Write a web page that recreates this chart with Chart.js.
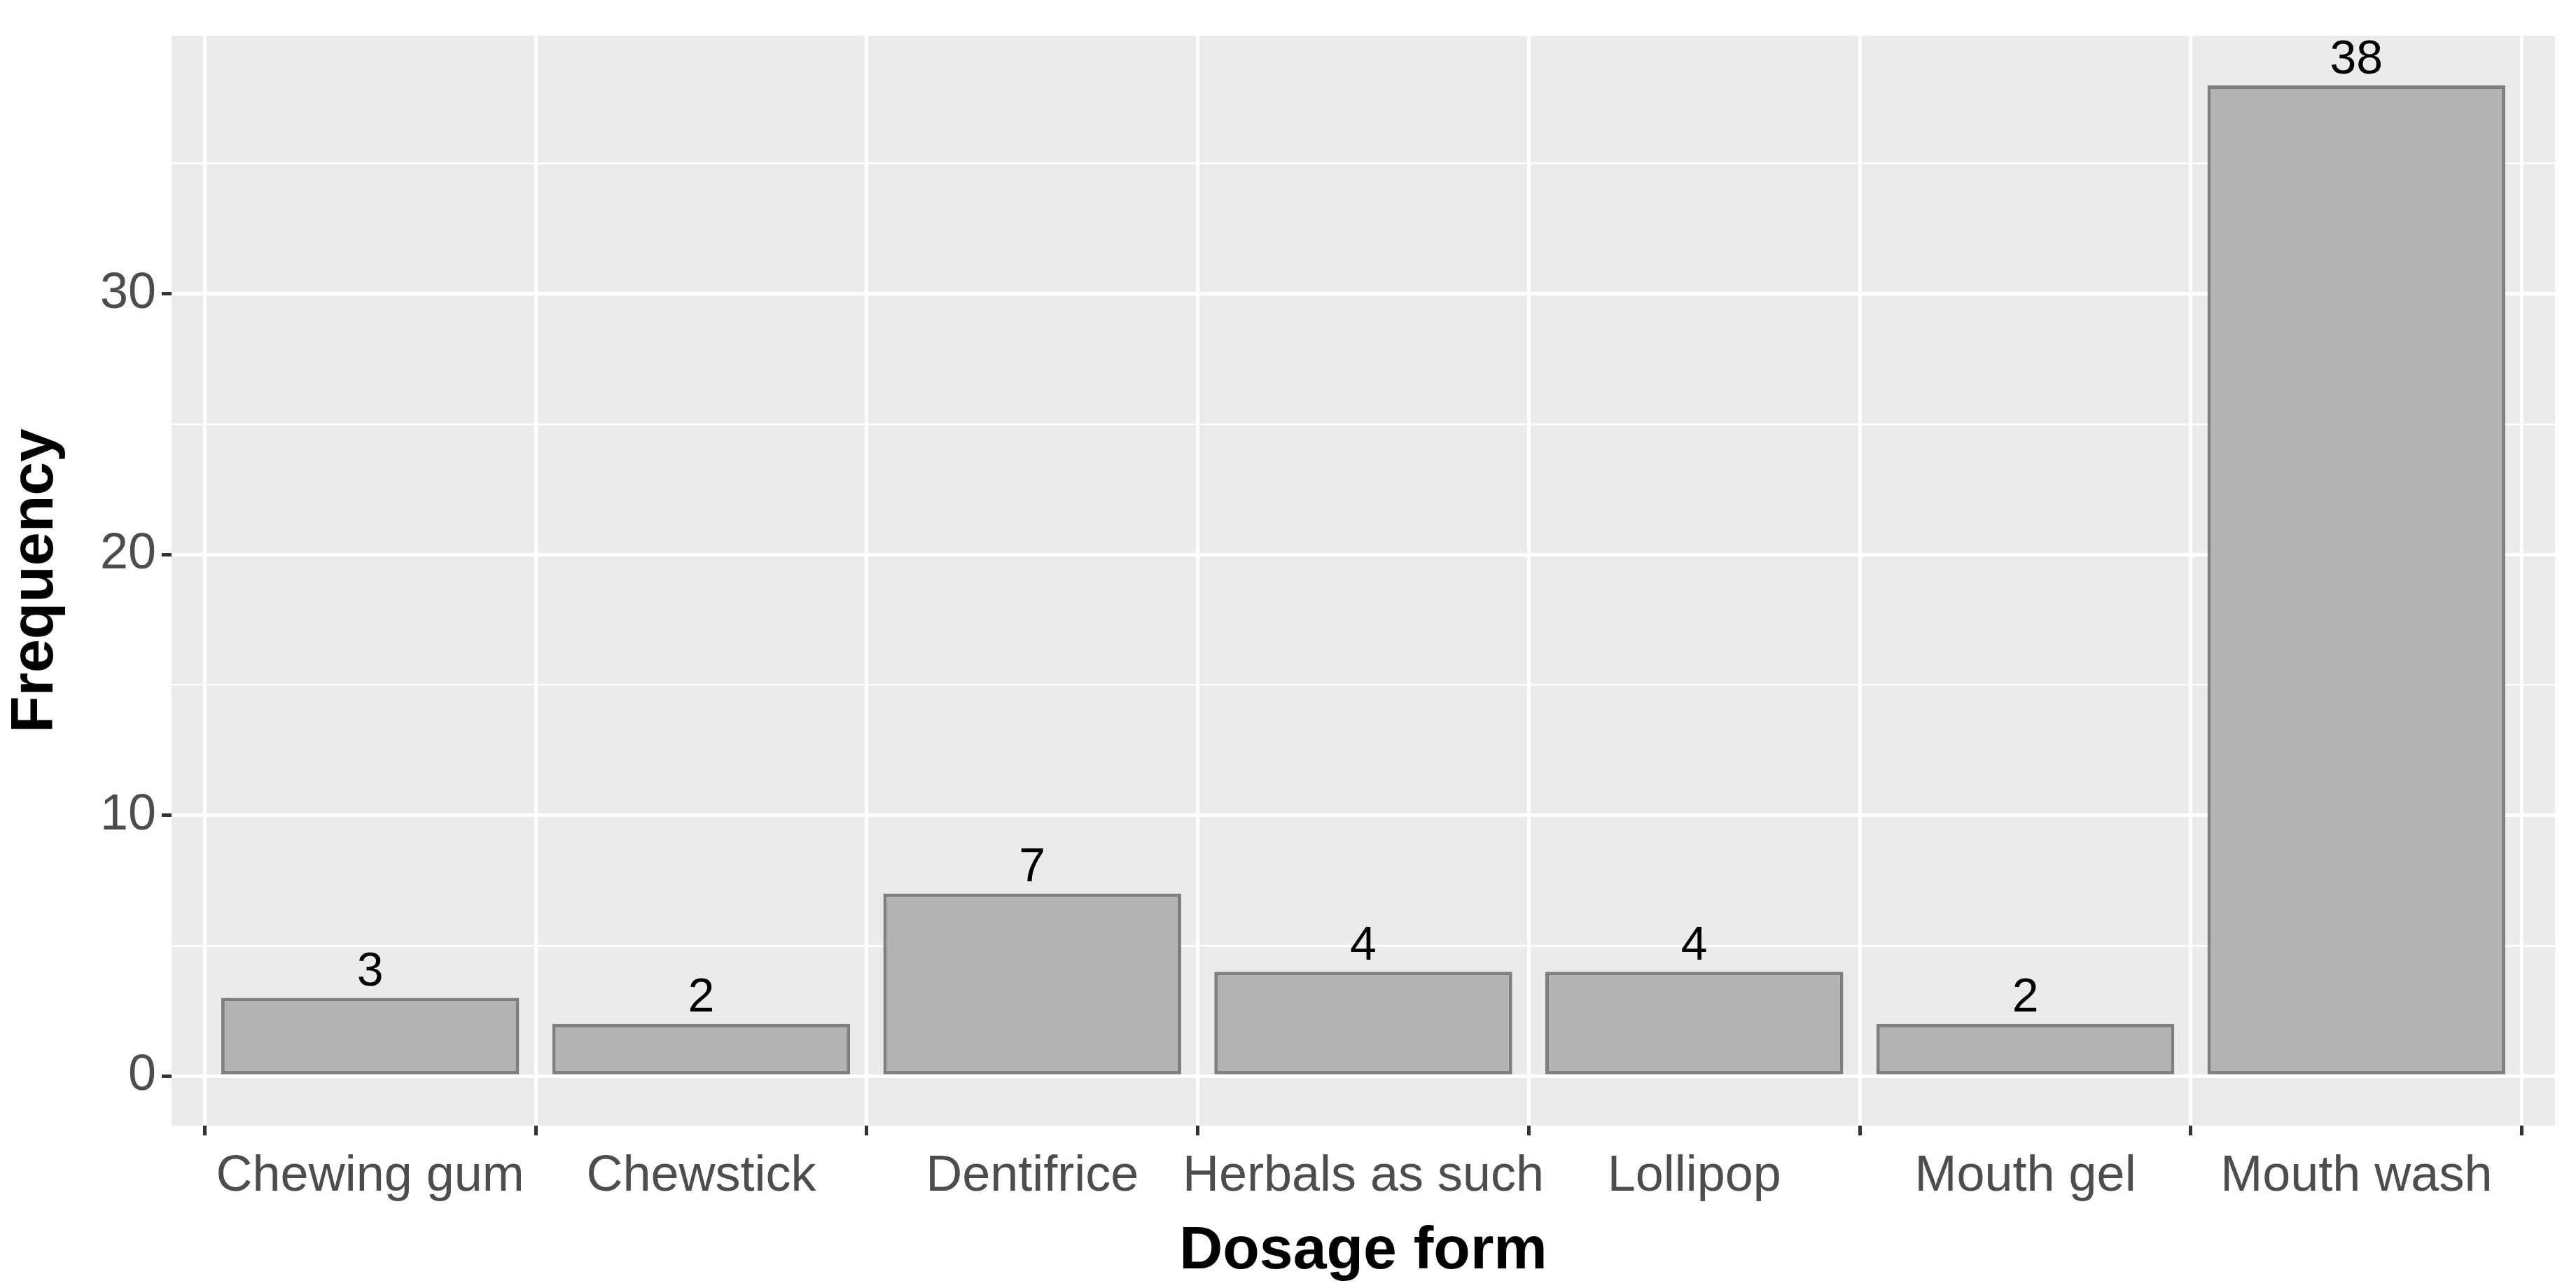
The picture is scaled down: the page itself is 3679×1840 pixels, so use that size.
<!DOCTYPE html>
<html>
<head>
<meta charset="utf-8">
<script src="https://cdn.jsdelivr.net/npm/chart.js@4"></script>
<style>
  html, body { margin: 0; padding: 0; background: #fff; }
  #wrap { width: 3679px; height: 1840px; }
</style>
</head>
<body>
<div id="wrap"><canvas id="dosage-chart"></canvas></div>
<script>
const categories = ['Chewing gum', 'Chewstick', 'Dentifrice', 'Herbals as such', 'Lollipop', 'Mouth gel', 'Mouth wash'];
const frequencies = [3, 2, 7, 4, 4, 2, 38];
const yTicks = [0, 5, 10, 15, 20, 25, 30, 35];
const yLabels = [0, 10, 20, 30];

Chart.defaults.font.family = '"Liberation Sans", Arial, sans-serif';

const panelBackground = {
    id: 'panelBackground',
    beforeDraw(chart) {
        const { ctx, chartArea } = chart;
        ctx.save();
        ctx.fillStyle = '#ebebeb';
        ctx.fillRect(chartArea.left, chartArea.top, chartArea.right - chartArea.left, chartArea.bottom - chartArea.top);
        ctx.restore();
    }
};

const barLabels = {
    id: 'barLabels',
    afterDatasetsDraw(chart) {
        const ctx = chart.ctx;
        const meta = chart.getDatasetMeta(0);
        ctx.save();
        ctx.fillStyle = '#000';
        ctx.font = '68px "Liberation Sans", Arial, sans-serif';
        ctx.textAlign = 'center';
        ctx.textBaseline = 'bottom';
        meta.data.forEach((bar, i) => {
            ctx.fillText(String(frequencies[i]), bar.x, bar.y - 2);
        });
        ctx.restore();
    }
};

const points = categories.map((c, i) => ({ x: i + 1, y: frequencies[i] }));

const ctx = document.getElementById('dosage-chart').getContext('2d');
new Chart(ctx, {
    type: 'bar',
    data: {
        datasets: [{
            data: points,
            backgroundColor: '#b3b3b3',
            borderColor: '#7f7f7f',
            borderWidth: 5,
            borderSkipped: false,
            categoryPercentage: 0.9,
            barPercentage: 1.0
        }]
    },
    options: {
        responsive: true,
        maintainAspectRatio: false,
        animation: false,
        devicePixelRatio: 1,
        layout: { padding: { top: 0, right: 30, left: 0, bottom: 0 } },
        plugins: { legend: { display: false }, tooltip: { enabled: false } },
        scales: {
            x: {
                type: 'linear',
                min: 0.4,
                max: 7.6,
                offset: false,
                afterBuildTicks(scale) { scale.ticks = categories.map((c, i) => ({ value: i + 1 })); },
                grid: { color: '#ffffff', lineWidth: 5, tickColor: '#333333', tickLength: 14 },
                border: { display: false },
                ticks: {
                    color: '#4d4d4d',
                    font: { size: 72 },
                    padding: 16,
                    maxRotation: 0,
                    autoSkip: false,
                    callback: v => categories[v - 1] || ''
                },
                title: { display: true, text: 'Dosage form', color: '#000', font: { size: 86, weight: 'bold' }, padding: { top: 2, bottom: 0 } },
                afterFit(scale) { scale.height = 232; }
            },
            y: {
                min: -1.9,
                max: 39.9,
                afterBuildTicks(scale) { scale.ticks = yTicks.map(v => ({ value: v })); },
                grid: {
                    color: '#ffffff',
                    lineWidth: c => (c.tick && yLabels.includes(c.tick.value)) ? 5 : 2.5,
                    tickColor: c => (c.tick && yLabels.includes(c.tick.value)) ? '#333333' : 'rgba(0,0,0,0)',
                    tickLength: 14
                },
                border: { display: false },
                ticks: {
                    color: '#4d4d4d',
                    font: { size: 72 },
                    padding: 8,
                    callback: v => yLabels.includes(v) ? String(v) : ''
                },
                title: { display: true, text: 'Frequency', color: '#000', font: { size: 86, weight: 'bold' }, padding: { top: 0, bottom: 10 } },
                afterFit(scale) { scale.width = 245; }
            }
        }
    },
    plugins: [panelBackground, barLabels]
});
</script>
</body>
</html>
